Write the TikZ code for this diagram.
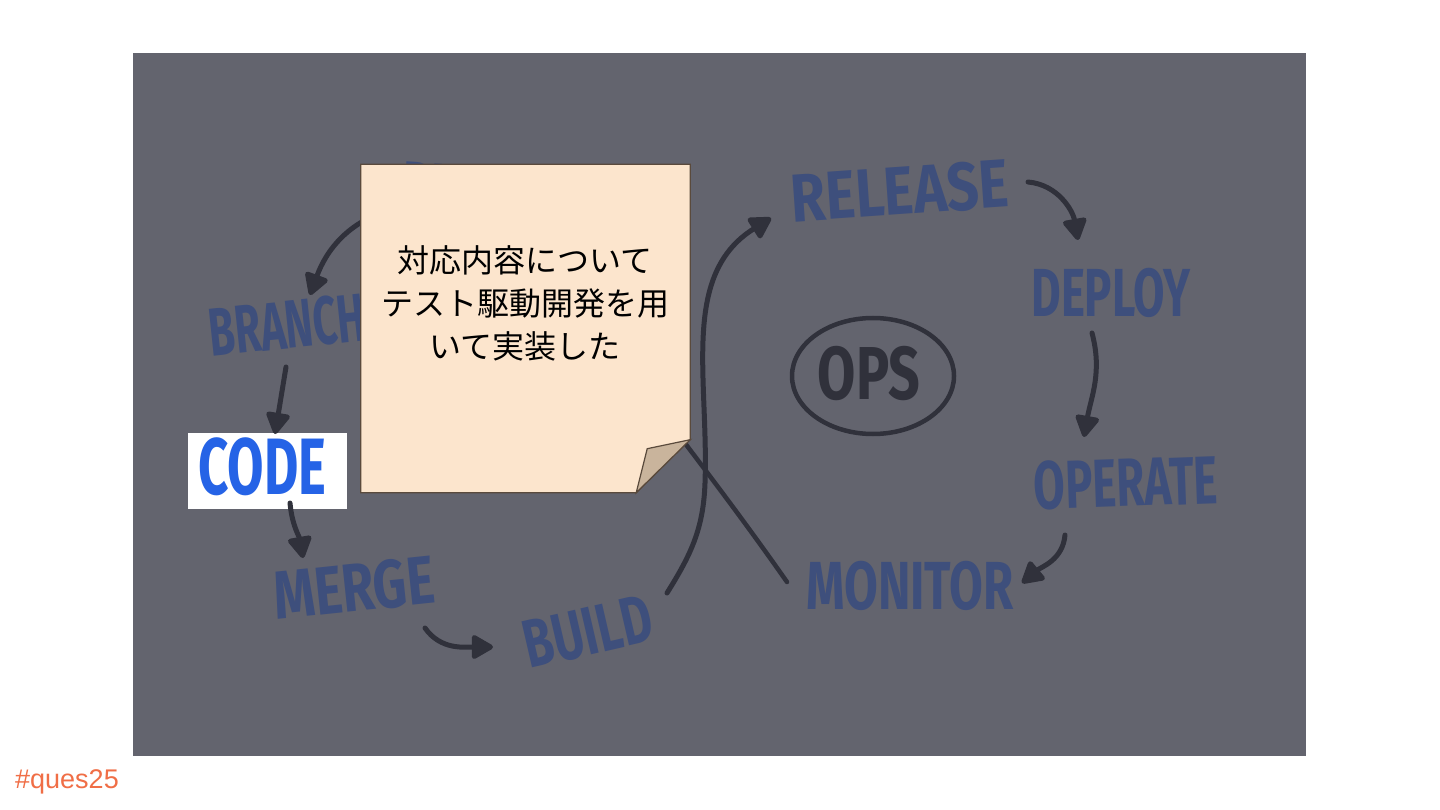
\documentclass[tikz,border=0pt]{standalone}
\usepackage{fontspec}
\usepackage{tikz}
\usetikzlibrary{arrows.meta}
\newfontfamily\handfont{Fira Sans}
\newfontfamily\jpfont{Noto Sans CJK JP}
\newfontfamily\tagfont{Liberation Sans}
\definecolor{slate}{HTML}{63646E}
\definecolor{inkblue}{HTML}{3E4F7C}
\definecolor{pen}{HTML}{30313B}
\definecolor{codeblue}{HTML}{2563E6}
\definecolor{paper}{HTML}{FCE5CD}
\definecolor{paperedge}{HTML}{5A4A3C}
\definecolor{foldpaper}{HTML}{C9B49C}
\definecolor{tagorange}{HTML}{F06E46}

\begin{document}
\begin{tikzpicture}[x=1pt,y=1pt,
  word/.style={text=inkblue,inner sep=0pt,font=\handfont\bfseries\fontsize{68}{68}\selectfont},
  flow/.style={draw=pen,line width=5pt,line cap=round,-{Triangle[length=24pt,width=26pt,round]}},
  stroke/.style={draw=pen,line width=4.5pt,line cap=round}]
  \useasboundingbox (0,0) rectangle (1440,-810);
  \fill[white] (0,0) rectangle (1440,-810);
  \fill[slate] (133,-53) rectangle (1306,-756);
  % dev side
  \node[word,rotate=-4,xscale=.7] (plan) at (458,-189) {PLAN};
  \node[word,rotate=6,xscale=.62] (branch) at (287,-325) {BRANCH};
  \node[fill=white,minimum width=159pt,minimum height=76pt,inner sep=0pt] (code) at (267.5,-471) {};
  \node[word,text=codeblue,xscale=.66,font=\handfont\bfseries\fontsize{80}{80}\selectfont] (codeword) at ([shift={(-5,4)}]code.center) {CODE};
  \node[word,rotate=6,xscale=.77] (merge) at (354,-588) {MERGE};
  \node[word,rotate=13,xscale=.7] (build) at (588,-632) {BUILD};
  % ops side
  \node[word,rotate=4,xscale=.83] (release) at (900,-191) {RELEASE};
  \node[word,xscale=.67] (deploy) at (1111,-293) {DEPLOY};
  \node[word,rotate=2,xscale=.67] (operate) at (1126,-483) {OPERATE};
  \node[word,xscale=.72] (monitor) at (910,-586) {MONITOR};
  \node[word,text=pen,xscale=.74,font=\handfont\bfseries\fontsize{75}{75}\selectfont] (ops) at (869,-374) {OPS};
  \draw[stroke] ([shift={(4,-2)}]ops.center) ellipse [x radius=81, y radius=58];
  % arrows round the loop
  \draw[flow] ([shift={(-65,-20)}]plan.center) to[out=195,in=70] ([shift={(23,30)}]branch.center);
  \draw[flow] ([shift={(-1,-42)}]branch.center) -- ([shift={(7.5,37)}]code.center);
  \draw[flow] ([shift={(22.5,-32)}]code.center) to[out=-85,in=100] ([shift={(-51,30)}]merge.center);
  \draw[flow] ([shift={(71,-40)}]merge.center) to[out=-55,in=180] ([shift={(-95,-15)}]build.center);
  \draw[flow] ([shift={(79,39)}]build.center) to[out=58,in=-92] ++(38,110) to[out=88,in=212] ([shift={(-129,-27)}]release.center);
  \draw[flow] ([shift={(128,9)}]release.center) to[out=-5,in=100] ([shift={(-33,53)}]deploy.center);
  \draw[flow] ([shift={(-19,-40)}]deploy.center) to[out=-75,in=80] ([shift={(-42,46)}]operate.center);
  \draw[flow] ([shift={(-61,-52)}]operate.center) to[out=-95,in=40] ([shift={(112,3)}]monitor.center);
  \draw[stroke] ([shift={(-123,4)}]monitor.center) to[out=125,in=-60] (plan.east);
  % sticky note on top
  \node[minimum width=329pt,minimum height=328pt,inner sep=0pt] (note) at (525.5,-328.5) {};
  \filldraw[fill=paper,draw=paperedge,line width=1.2pt] (note.north west) -- (note.north east)
    -- ([yshift=53pt]note.south east) -- ([xshift=-54pt]note.south east) -- (note.south west) -- cycle;
  \filldraw[fill=foldpaper,draw=paperedge,line width=1.2pt] ([yshift=53pt]note.south east)
    -- ([shift={(-43,44)}]note.south east) -- ([xshift=-54pt]note.south east) -- cycle;
  \node[align=center,inner sep=0pt,font=\jpfont\fontsize{32}{43}\selectfont] (memo) at (525,-303)
    {対応内容について\\テスト駆動開発を用\\いて実装した};
  \node[anchor=base west,inner sep=0pt,text=tagorange,font=\tagfont\fontsize{27}{27}\selectfont] (tag) at (15,-788) {\#ques25};
\end{tikzpicture}
\end{document}
